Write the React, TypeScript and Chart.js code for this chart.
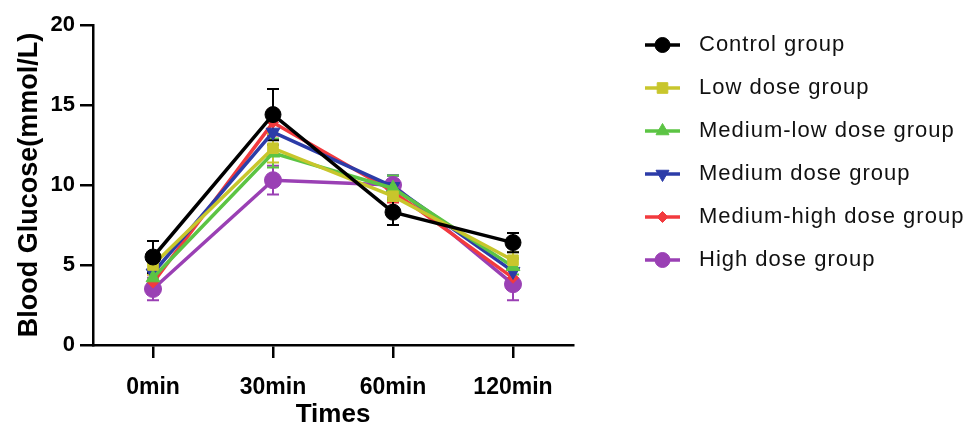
import React, { useEffect, useRef } from "react";
import { Chart, registerables } from "chart.js";
import { drawPoint } from "chart.js/helpers";

Chart.register(...registerables);

const categories = ["0min", "30min", "60min", "120min"];
const seriesNames = [
  "Control group",
  "Low dose group",
  "Medium-low dose group",
  "Medium dose group",
  "Medium-high dose group",
  "High dose group",
];
const controlValues = [5.5, 14.4, 8.3, 6.4];
const lowValues = [5.0, 12.3, 9.3, 5.3];
const medLowValues = [4.2, 12.0, 9.8, 4.9];
const mediumValues = [4.5, 13.3, 9.9, 4.6];
const medHighValues = [3.9, 13.9, 9.6, 4.2];
const highValues = [3.5, 10.3, 10.0, 3.8];

const controlErrors = [1.0, 1.6, 0.8, 0.6];
const lowErrors = [0.6, 0.9, 0.8, 0.5];
const medLowErrors = [0.5, 0.9, 0.8, 0.5];
const mediumErrors = [0.8, 0.8, 0.7, 0.8];
const medHighErrors = [0.5, 0.8, 0.7, 0.6];
const highErrors = [0.7, 0.9, 0.6, 1.0];

const yTicks = [0, 5, 10, 15, 20];

const colors = ["#000000", "#C8C62C", "#5CC444", "#2C3CA8", "#F23A3E", "#9A40B4"];
const pointStyles = ["circle", "rect", "triangle", "triangle", "rectRot", "circle"];
const pointRotations = [0, 0, 0, 180, 0, 0];
const pointRadii = [8, 7.5, 8, 8, 5.5, 8.5];

const allValues = [controlValues, lowValues, medLowValues, mediumValues, medHighValues, highValues];
const allErrors = [controlErrors, lowErrors, medLowErrors, mediumErrors, medHighErrors, highErrors];

const FONT = "'Liberation Sans', Arial, sans-serif";

const errorBarPlugin = {
  id: "errorBars",
  beforeDatasetsDraw(chart: any) {
    const ctx = chart.ctx;
    const y = chart.scales.y;
    for (let d = chart.data.datasets.length - 1; d >= 0; d--) {
      const meta = chart.getDatasetMeta(d);
      const errs = allErrors[d];
      const vals = allValues[d];
      ctx.save();
      ctx.strokeStyle = colors[d];
      ctx.lineWidth = 2;
      meta.data.forEach((pt: any, i: number) => {
        const x = pt.x;
        const yTop = y.getPixelForValue(vals[i] + errs[i]);
        const yBot = y.getPixelForValue(vals[i] - errs[i]);
        ctx.beginPath();
        ctx.moveTo(x, yTop);
        ctx.lineTo(x, yBot);
        ctx.moveTo(x - 6, yTop);
        ctx.lineTo(x + 6, yTop);
        ctx.moveTo(x - 6, yBot);
        ctx.lineTo(x + 6, yBot);
        ctx.stroke();
      });
      ctx.restore();
    }
  },
};

const legendPlugin = {
  id: "customLegend",
  afterDraw(chart: any) {
    const ctx = chart.ctx;
    const x0 = 645;
    const x1 = 680;
    const textX = 699;
    const startY = 45;
    const step = 43;
    chart.data.datasets.forEach((ds: any, i: number) => {
      const yy = startY + i * step;
      ctx.save();
      ctx.strokeStyle = ds.borderColor;
      ctx.lineWidth = 3.5;
      ctx.beginPath();
      ctx.moveTo(x0, yy);
      ctx.lineTo(x1, yy);
      ctx.stroke();
      ctx.fillStyle = ds.backgroundColor;
      ctx.strokeStyle = ds.borderColor;
      ctx.lineWidth = 1;
      drawPoint(ctx, {
        pointStyle: ds.pointStyle,
        rotation: ds.rotation,
        radius: Math.min(ds.pointRadius, 7.5),
        borderWidth: 1,
      } as any, (x0 + x1) / 2, yy);
      ctx.fillStyle = "#111111";
      ctx.font = "22px " + FONT;
      (ctx as any).letterSpacing = "1px";
      ctx.textBaseline = "middle";
      ctx.textAlign = "left";
      ctx.fillText(ds.label, textX, yy);
      ctx.restore();
    });
  },
};

export default function App() {
  const canvasRef = useRef<HTMLCanvasElement | null>(null);

  useEffect(() => {
    document.body.style.margin = "0";
    const canvas = canvasRef.current;
    if (!canvas) return;
    const datasets = allValues.map((vals, i) => ({
      label: seriesNames[i],
      data: vals,
      borderColor: colors[i],
      backgroundColor: colors[i],
      borderWidth: 3.5,
      pointStyle: pointStyles[i],
      rotation: pointRotations[i],
      pointRadius: pointRadii[i],
      pointHoverRadius: pointRadii[i],
      pointBorderWidth: 1,
      tension: 0,
      fill: false,
    }));
    const chart = new Chart(canvas, {
      type: "line",
      data: { labels: categories, datasets },
      options: {
        responsive: false,
        animation: false,
        maintainAspectRatio: false,
        layout: { padding: { top: 25, right: 393, left: 0, bottom: 0 } },
        plugins: {
          legend: { display: false },
          tooltip: { enabled: false },
        },
        scales: {
          x: {
            type: "category",
            offset: true,
            grid: {
              display: true,
              drawOnChartArea: false,
              drawTicks: true,
              tickLength: 13,
              color: "#000",
              lineWidth: 2.5,
            },
            border: { display: true, color: "#000", width: 2.5 },
            ticks: {
              color: "#000",
              padding: 16,
              font: { family: FONT, size: 23, weight: "bold" },
            },
            title: {
              display: true,
              text: "Times",
              color: "#000",
              padding: { top: 0, bottom: 0 },
              font: { family: FONT, size: 26, weight: "bold", lineHeight: 0.85 },
            },
            afterFit(scale: any) {
              scale.height = 81;
            },
          },
          y: {
            min: 0,
            max: 20,
            afterBuildTicks(scale: any) {
              scale.ticks = yTicks.map((v) => ({ value: v }));
            },
            grid: {
              display: true,
              drawOnChartArea: false,
              drawTicks: true,
              tickLength: 13,
              color: "#000",
              lineWidth: 2.5,
            },
            border: { display: true, color: "#000", width: 2.5 },
            ticks: {
              color: "#000",
              padding: 5,
              font: { family: FONT, size: 22, weight: "bold" },
            },
            title: {
              display: true,
              text: "Blood Glucose(mmol/L)",
              color: "#000",
              padding: { top: 16, bottom: 0 },
              font: { family: FONT, size: 27, weight: "bold", lineHeight: 1 },
            },
            afterFit(scale: any) {
              scale.width = 93;
            },
          },
        },
      },
      plugins: [errorBarPlugin, legendPlugin],
    });
    return () => chart.destroy();
  }, []);

  return (
    <div style={{ width: 966, height: 426, background: "#fff" }}>
      <canvas ref={canvasRef} width={966} height={426} style={{ display: "block" }} />
    </div>
  );
}
